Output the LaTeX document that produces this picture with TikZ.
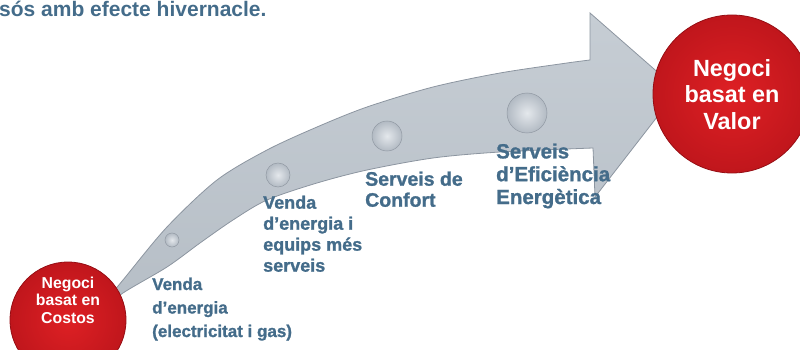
\documentclass[tikz,border=0pt]{standalone}
\usepackage{fontspec}
\setmainfont{Liberation Sans}
\newfontfamily\heavyfont[FakeBold=1.2]{Liberation Sans Bold}
\definecolor{labelblue}{RGB}{68,108,138}
\definecolor{bandtop}{RGB}{198,205,212}
\definecolor{bandbot}{RGB}{182,190,198}
\definecolor{bandedge}{RGB}{140,149,160}
\definecolor{redin}{RGB}{222,32,36}
\definecolor{redout}{RGB}{192,22,28}
\definecolor{rededge}{RGB}{150,14,20}
\definecolor{knobin}{RGB}{228,232,236}
\definecolor{knobout}{RGB}{178,186,195}
\definecolor{knobedge}{RGB}{145,153,163}
\begin{document}
\begin{tikzpicture}[x=1pt,y=-1pt,
  lbl/.style={text=labelblue,align=left,inner sep=0pt,anchor=base west},
  redball/.style={shading=radial,inner color=redin,outer color=redout,draw=rededge,line width=0.8pt},
  knobstyle/.style={shading=radial,inner color=knobin,outer color=knobout,draw=knobedge,line width=0.5pt},
  redtxt/.style={text=white,align=center,inner sep=0pt}]
\useasboundingbox (0,0) rectangle (800,350);
% title
\node[lbl,font=\bfseries\fontsize{21}{24}\selectfont] (title) at (-1,17) {sós amb efecte hivernacle.};
% band arrow
\path[top color=bandtop,bottom color=bandbot,draw=bandedge,line width=0.8pt]
  plot[smooth] coordinates {(100,308) (123,280) (167,227) (217,180) (267,150) (317,127) (367,107) (433,87) (500,73) (567,63) (590,60)}
  -- (590,13) -- (678,90) -- (595,197) -- (593,148)
  -- plot[smooth] coordinates {(593,148) (500,152) (433,158) (367,170) (317,183) (267,200) (233,220) (200,243) (167,267) (123,293) (100,312)}
  -- cycle;
% knobs
\path[knobstyle] (172,240) circle (7);
\path[knobstyle] (278,175) circle (12);
\path[knobstyle] (387,136) circle (15);
\path[knobstyle] (527,113) circle (20);
% red circles
\path[redball] (68,320) circle (58);
\path[redball] (732,94) circle (79);
\node[redtxt,font=\bfseries\fontsize{15.8}{17.5}\selectfont,anchor=base] (costos) at (68,323.3)
  {Negoci\\basat en\\Costos};
\node[redtxt,font=\bfseries\fontsize{23.4}{26.3}\selectfont,anchor=base] (valor) at (732,129)
  {Negoci\\basat en\\Valor};
% labels
\node[lbl,font=\heavyfont\fontsize{17}{23.5}\selectfont] (l1) at (152,337)
  {Venda\\d’energia\\(electricitat i gas)};
\node[lbl,font=\heavyfont\fontsize{18}{21}\selectfont] (l2) at (263,271.7)
  {Venda\\d’energia i\\equips més\\serveis};
\node[lbl,font=\heavyfont\fontsize{19.5}{21}\selectfont] (l3) at (365,206.7)
  {Serveis de\\Confort};
\node[lbl,font=\heavyfont\fontsize{20.5}{22.8}\selectfont] (l4) at (496,204)
  {Serveis\\d’Eficiència\\Energètica};
\end{tikzpicture}
\end{document}
